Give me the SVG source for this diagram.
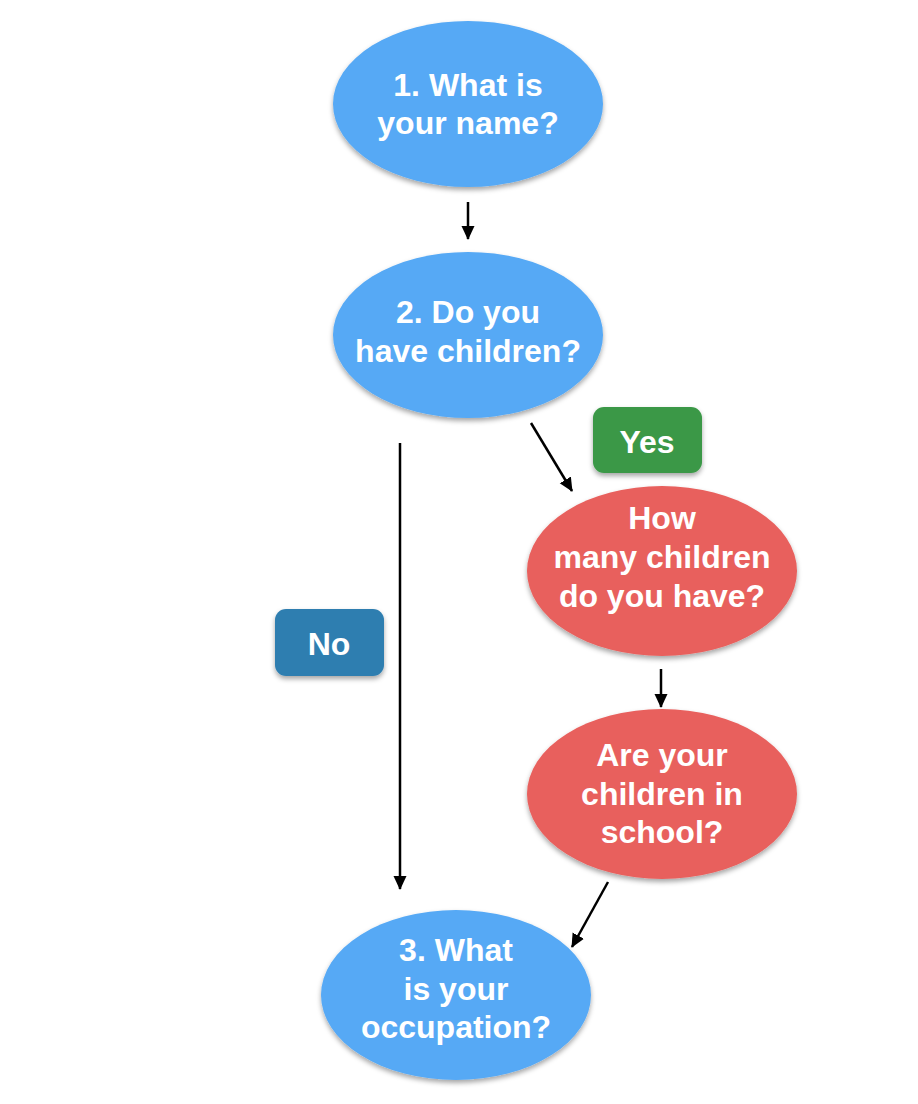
<svg xmlns="http://www.w3.org/2000/svg" width="918" height="1104" viewBox="0 0 918 1104">
<style>
.t{font-family:"Liberation Sans",Arial,Helvetica,sans-serif;font-weight:bold;font-size:32px;fill:#ffffff;text-anchor:middle}
.blue{fill:#56a9f5}
.red{fill:#e8605d}
.conn{stroke:#000;stroke-width:2.5;fill:none}
</style>
<defs>
<filter id="sh" x="-20%" y="-20%" width="140%" height="150%">
<feDropShadow dx="0" dy="3" stdDeviation="2.5" flood-color="#000" flood-opacity="0.35"/>
</filter>
<marker id="ah" viewBox="0 0 14 14" refX="13" refY="7" markerWidth="14" markerHeight="14" orient="auto" markerUnits="userSpaceOnUse">
<path d="M0,0.5 L14,7 L0,13.5 z" fill="#000"/>
</marker>
</defs>
<g id="connectors">
<line class="conn" x1="468" y1="202" x2="468" y2="239" marker-end="url(#ah)"/>
<line class="conn" x1="531" y1="423" x2="572" y2="491" marker-end="url(#ah)"/>
<line class="conn" x1="400" y1="443" x2="400" y2="889" marker-end="url(#ah)"/>
<line class="conn" x1="661" y1="669" x2="661" y2="707" marker-end="url(#ah)"/>
<line class="conn" x1="608" y1="882" x2="572" y2="947" marker-end="url(#ah)"/>
</g>
<g id="n1">
<ellipse class="blue" cx="468" cy="104" rx="135" ry="83" filter="url(#sh)"/>
<text class="t" x="468" y="96">1. What is</text>
<text class="t" x="468" y="134">your name?</text>
</g>
<g id="n2">
<ellipse class="blue" cx="468" cy="335" rx="135" ry="83" filter="url(#sh)"/>
<text class="t" x="468" y="323">2. Do you</text>
<text class="t" x="468" y="362">have children?</text>
</g>
<g id="yes">
<rect x="593" y="407" width="109" height="66" rx="11" fill="#3a9846" filter="url(#sh)"/>
<text class="t" x="647" y="453">Yes</text>
</g>
<g id="no">
<rect x="275" y="609" width="109" height="67" rx="11" fill="#2f7eb0" filter="url(#sh)"/>
<text class="t" x="329" y="655">No</text>
</g>
<g id="n3">
<ellipse class="red" cx="662" cy="571" rx="135" ry="85" filter="url(#sh)"/>
<text class="t" x="662" y="529">How</text>
<text class="t" x="662" y="568">many children</text>
<text class="t" x="662" y="607">do you have?</text>
</g>
<g id="n4">
<ellipse class="red" cx="662" cy="794" rx="135" ry="85" filter="url(#sh)"/>
<text class="t" x="662" y="766">Are your</text>
<text class="t" x="662" y="805">children in</text>
<text class="t" x="662" y="843">school?</text>
</g>
<g id="n5">
<ellipse class="blue" cx="456" cy="995" rx="135" ry="85" filter="url(#sh)"/>
<text class="t" x="456" y="961">3. What</text>
<text class="t" x="456" y="1000">is your</text>
<text class="t" x="456" y="1038">occupation?</text>
</g>
</svg>
